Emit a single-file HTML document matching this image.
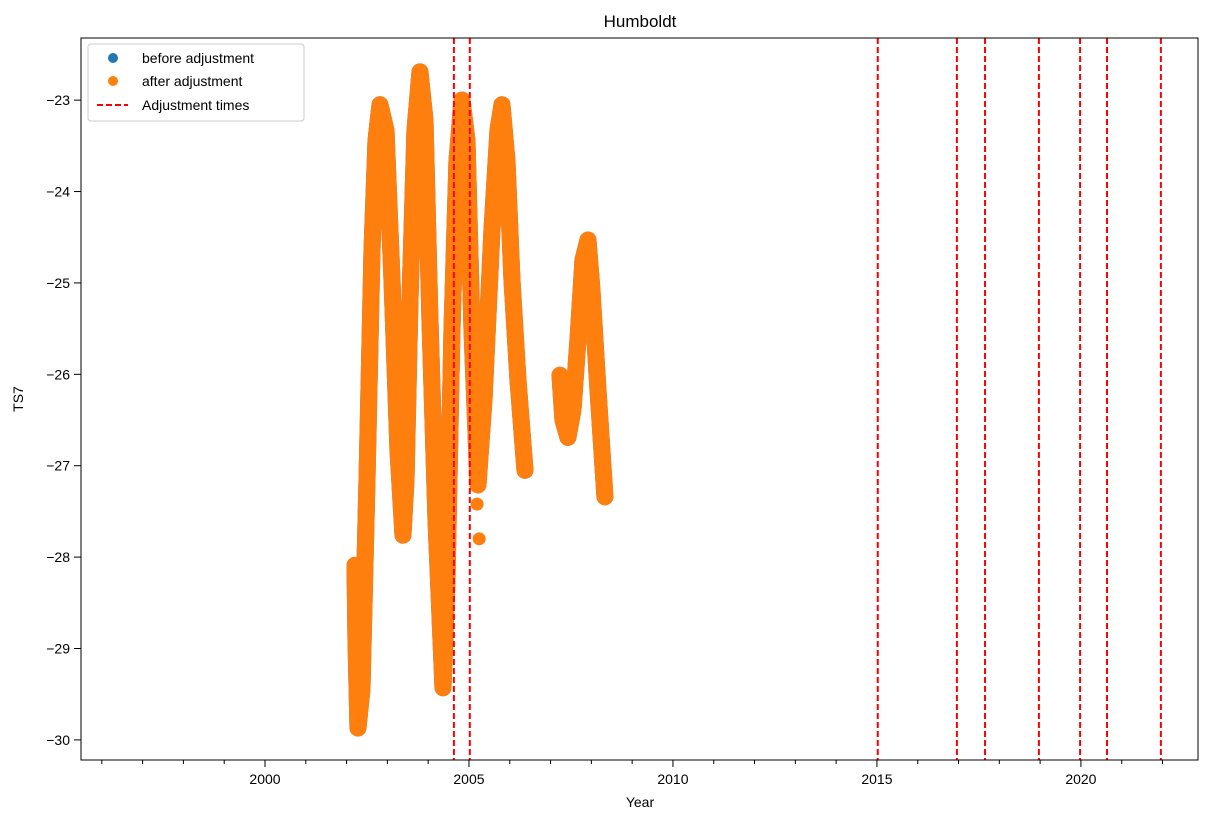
<!DOCTYPE html>
<html><head><meta charset="utf-8"><style>
body{margin:0;background:#fff;}
svg text{font-family:"Liberation Sans","DejaVu Sans",sans-serif;fill:#000;}
</style></head><body>
<svg id="chart" width="1208" height="822">
<text x="640" y="27" font-size="17" text-anchor="middle">Humboldt</text>
<g id="plot"></g>
<rect x="81" y="38" width="1117" height="722" fill="none" stroke="#000" stroke-width="1"/>
<text x="640" y="807" font-size="14" text-anchor="middle">Year</text>
<text x="23" y="399" font-size="14" text-anchor="middle" transform="rotate(-90 23 399)">TS7</text>
<g>
<rect x="88" y="44" width="216" height="77" rx="3" fill="#fff" stroke="#ccc"/>
<circle cx="113" cy="58" r="5" fill="#1f77b4"/>
<text x="142" y="63" font-size="14">before adjustment</text>
<circle cx="113" cy="81" r="5" fill="#ff7f0e"/>
<text x="142" y="86" font-size="14">after adjustment</text>
<line x1="97" y1="105" x2="128" y2="105" stroke="#f00" stroke-width="2" stroke-dasharray="6,3"/>
<text x="142" y="110" font-size="14">Adjustment times</text>
</g>
</svg>
<script>
const xTicks=[2000,2005,2010,2015,2020];
const yTicks=[-23,-24,-25,-26,-27,-28,-29,-30];
const adjustTimes=[2004.63,2005.02,2015.02,2016.96,2017.65,2018.97,2019.98,2020.64,2021.96];
const seg1Years=[2002.206,2002.230,2002.279,2002.377,2002.5,2002.623,2002.721,2002.819,2002.966,2003.113,2003.260,2003.382,2003.456,2003.554,2003.676,2003.799,2003.922,2004.044,2004.191,2004.363,2004.461,2004.583,2004.706,2004.828,2004.951,2005.074,2005.221,2005.368,2005.564,2005.711,2005.809,2005.931,2006.054,2006.201,2006.373];
const seg1Values=[-28.09,-28.91,-29.87,-29.45,-27.16,-24.64,-23.44,-23.05,-23.33,-24.97,-26.83,-27.76,-27.16,-25.19,-23.33,-22.69,-23.22,-25.41,-27.59,-29.43,-28.25,-25.52,-23.66,-23.0,-23.44,-25.52,-27.21,-26.28,-24.42,-23.33,-23.05,-23.66,-24.97,-26.06,-27.05];
const seg2Years=[2007.230,2007.304,2007.426,2007.549,2007.672,2007.794,2007.917,2008.015,2008.162,2008.333];
const seg2Values=[-26.01,-26.5,-26.69,-26.39,-25.62,-24.75,-24.53,-25.08,-26.17,-27.34];
const strayYears=[2005.2,2005.25];
const strayValues=[-27.42,-27.8];
const X0=1995.49,X1=2022.87,Y0=-22.32,Y1=-30.22;
const xs=v=>81+(v-X0)/(X1-X0)*1117;
const ys=v=>38+(v-Y0)/(Y1-Y0)*722;
const NS='http://www.w3.org/2000/svg';
const g=document.getElementById('plot');
function mk(t,a){const e=document.createElementNS(NS,t);for(const k in a)e.setAttribute(k,a[k]);g.appendChild(e);return e;}
function series(yrs,vals,color,w,name){
  const pts=yrs.map((y,i)=>xs(y)+','+ys(vals[i])).join(' ');
  const p=mk('polyline',{points:pts,fill:'none',stroke:color,'stroke-width':w,'stroke-linejoin':'round','stroke-linecap':'round'});
  
  
}
series(seg1Years,seg1Values,'#1f77b4',17,'before-series-1');
series(seg2Years,seg2Values,'#1f77b4',17,'before-series-2');
series(seg1Years,seg1Values,'#ff7f0e',17,'after-series-1');
series(seg2Years,seg2Values,'#ff7f0e',17,'after-series-2');
strayYears.forEach((y,i)=>{
  const c=mk('circle',{cx:xs(y),cy:ys(strayValues[i]),r:6.5,fill:'#ff7f0e'});
  
  
});
adjustTimes.forEach(t=>{
  const l=mk('line',{x1:xs(t),x2:xs(t),y1:38,y2:760,stroke:'#f00','stroke-width':2,'stroke-dasharray':'6,3'});
  
  
});
for(let y=1996;y<=2022;y++){
  const major=xTicks.includes(y);
  const t=mk('line',{x1:xs(y),x2:xs(y),y1:760,y2:major?767:764,stroke:'#000','stroke-width':1});
  
  
}
xTicks.forEach(v=>{
  const t=mk('text',{x:xs(v),y:784,'font-size':14,'text-anchor':'middle'});
  t.textContent=v;
  
  
});
yTicks.forEach(v=>{
  const l=mk('line',{x1:74,x2:81,y1:ys(v),y2:ys(v),stroke:'#000','stroke-width':1});
  
  
  const t=mk('text',{x:70,y:ys(v)+5,'font-size':14,'text-anchor':'end'});
  t.textContent='\u2212'+Math.abs(v);
  
  
});
</script>
</body></html>
